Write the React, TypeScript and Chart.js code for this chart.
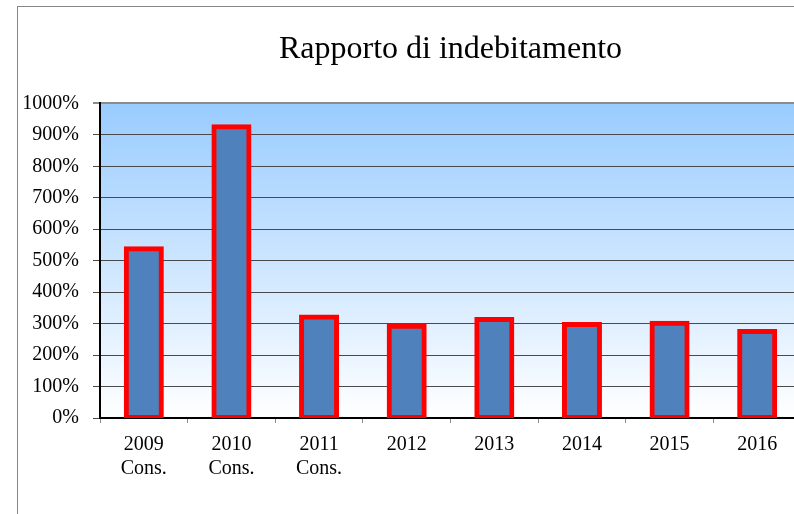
import React, { useEffect, useRef } from "react";
import { Chart, registerables } from "chart.js";

Chart.register(...registerables);

const categories: string[][] = [
  ["2009", "Cons."],
  ["2010", "Cons."],
  ["2011", "Cons."],
  ["2012"],
  ["2013"],
  ["2014"],
  ["2015"],
  ["2016"],
];
const ratioValues: number[] = [538, 926, 321, 292, 313, 297, 301, 275];
const yTickMin = 0;
const yTickMax = 1000;
const yTickStep = 100;
const titleText = "Rapporto di indebitamento";

const gradientPlugin = {
  id: "plotGradient",
  beforeDraw(chart: any) {
    const { ctx, chartArea } = chart;
    if (!chartArea) return;
    const g = ctx.createLinearGradient(0, chartArea.top, 0, chartArea.bottom);
    g.addColorStop(0, "#99CCFF");
    g.addColorStop(1, "#FFFFFF");
    ctx.save();
    ctx.fillStyle = g;
    ctx.fillRect(chartArea.left, chartArea.top, chartArea.right - chartArea.left, chartArea.bottom - chartArea.top);
    ctx.restore();
  },
};

export default function App() {
  const ref = useRef<HTMLCanvasElement | null>(null);
  useEffect(() => {
    if (!ref.current) return;
    const chart = new Chart(ref.current, {
      type: "bar",
      data: {
        labels: categories,
        datasets: [
          {
            data: ratioValues,
            backgroundColor: "#4F81BD",
            borderColor: "#FF0000",
            borderWidth: 5,
            borderSkipped: false,
            inflateAmount: 2.5,
            barPercentage: 0.4,
            categoryPercentage: 1,
          } as any,
        ],
      },
      options: {
        responsive: false,
        animation: false,
        events: [],
        layout: { padding: { left: 0, right: 95, top: 0, bottom: 0 } },
        plugins: {
          legend: { display: false },
          tooltip: { enabled: false },
          title: {
            display: true,
            fullSize: false,
            text: titleText,
            color: "#000000",
            font: { family: "'Liberation Serif', 'Times New Roman', serif", size: 32, weight: "normal", lineHeight: 1.2 },
            padding: { top: 30, bottom: 35 },
          },
        },
        scales: {
          x: {
            afterFit(scale: any) {
              scale.height = 96;
            },
            grid: {
              offset: true,
              drawOnChartArea: false,
              drawTicks: true,
              tickLength: 5,
              color: "#8C8C8C",
            },
            border: { display: true, color: "#000000", width: 2 },
            ticks: {
              color: "#000000",
              padding: 10,
              maxRotation: 0,
              autoSkip: false,
              font: { family: "'Liberation Serif', 'Times New Roman', serif", size: 20, lineHeight: 1.2 },
            },
          },
          y: {
            min: yTickMin,
            max: yTickMax,
            afterFit(scale: any) {
              scale.width = 100;
            },
            grid: {
              drawTicks: true,
              tickLength: 7,
              color: (c: any) => (c.tick && c.tick.value === yTickMax ? "#8C8C8C" : "#4A4A4A"),
              lineWidth: (c: any) => (c.tick && c.tick.value === yTickMax ? 2 : 1),
            },
            border: { display: true, color: "#000000", width: 2 },
            ticks: {
              stepSize: yTickStep,
              color: "#000000",
              padding: 14,
              font: { family: "'Liberation Serif', 'Times New Roman', serif", size: 20 },
              callback: (v: any) => v + "%",
            },
          },
        },
      },
      plugins: [gradientPlugin],
    });
    return () => chart.destroy();
  }, []);

  return (
    <div style={{ position: "absolute", left: 0, top: 0, width: 794, height: 514, overflow: "hidden", background: "#FFFFFF" }}>
      <div
        style={{
          position: "absolute",
          left: 17,
          top: 6,
          width: 900,
          height: 600,
          borderLeft: "1px solid #868686",
          borderTop: "1px solid #868686",
        }}
      />
      <canvas ref={ref} width={896} height={514} style={{ position: "absolute", left: 0, top: 0, display: "block" }} />
    </div>
  );
}
